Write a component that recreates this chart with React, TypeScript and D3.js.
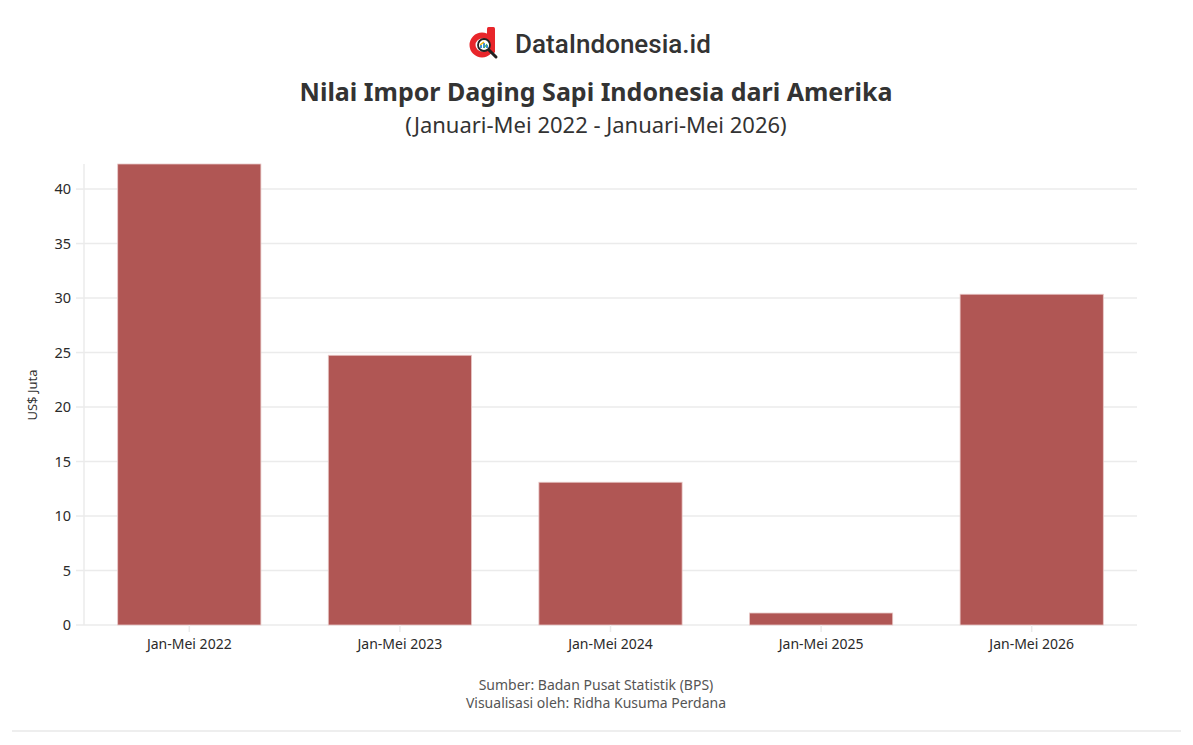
import * as d3 from "d3";
import React from "react";

const categories = ["Jan-Mei 2022", "Jan-Mei 2023", "Jan-Mei 2024", "Jan-Mei 2025", "Jan-Mei 2026"];
const values = [42.3, 24.75, 13.1, 1.1, 30.35];
const yTicks = [0, 5, 10, 15, 20, 25, 30, 35, 40];

const title = "Nilai Impor Daging Sapi Indonesia dari Amerika";
const subtitle = "(Januari-Mei 2022 - Januari-Mei 2026)";
const sourceLines = ["Sumber: Badan Pusat Statistik (BPS)", "Visualisasi oleh: Ridha Kusuma Perdana"];

const W = 1193;
const H = 745;
const margin = { top: 164, right: 56, bottom: 120, left: 84 };
const font = "'Source Sans Pro', 'Noto Sans', Roboto, sans-serif";

function Logo({ x, y }: { x: number; y: number }) {
  // red "d" with a magnifier over its bowl
  return (
    <g transform={`translate(${x}, ${y})`}>
      <rect x={25} y={5} width={8} height={26} fill="#e8262b" rx={1.5} />
      <circle cx={20} cy={23} r={9.5} fill="none" stroke="#e8262b" strokeWidth={6} />
      <circle cx={22} cy={23} r={6} fill="#fff" stroke="#222" strokeWidth={1.8} />
      <path d="M19,26 L19,23 M22,26 L22,21 M25,26 L25,23" stroke="#3a8fd8" strokeWidth={2} />
      <path d="M18,23 L22,20" stroke="#f4b400" strokeWidth={1.5} />
      <path d="M22,26 L25,22" stroke="#4caf50" strokeWidth={1.2} />
      <line x1={27} y1={28} x2={34} y2={35} stroke="#222" strokeWidth={3} strokeLinecap="round" />
    </g>
  );
}

export default function App() {
  const innerW = W - margin.left - margin.right;
  const x = d3
    .scaleBand()
    .domain(categories)
    .range([margin.left, margin.left + innerW])
    .paddingInner(0.32)
    .paddingOuter(0.16);
  const y = d3.scaleLinear().domain([0, 42.3]).range([625, margin.top]);

  return (
    <svg
      width={W}
      height={H}
      style={{ position: "absolute", left: 0, top: 0, background: "#fff", fontFamily: font }}
    >
      <Logo x={462} y={22} />
      <text x={515} y={53} fontSize={26} fill="#333" fontFamily="Roboto, sans-serif" fontWeight={500}>
        DataIndonesia.id
      </text>
      <text x={596} y={101} textAnchor="middle" fontSize={25} fontWeight={700} fill="#333">
        {title}
      </text>
      <text x={596} y={133} textAnchor="middle" fontSize={22} fill="#333">
        {subtitle}
      </text>

      {/* grid */}
      {yTicks.map((t) => (
        <g key={t}>
          <line x1={margin.left} x2={margin.left + innerW} y1={y(t)} y2={y(t)} stroke="#ebebeb" strokeWidth={1.5} />
          <line x1={margin.left - 8} x2={margin.left} y1={y(t)} y2={y(t)} stroke="#ebebeb" strokeWidth={1.5} />
          <text x={margin.left - 13} y={y(t)} dy="0.35em" textAnchor="end" fontSize={14.5} fill="#2a2a2a">
            {t}
          </text>
        </g>
      ))}
      <line x1={margin.left} x2={margin.left} y1={margin.top} y2={y(0)} stroke="#ebebeb" strokeWidth={1.5} />

      {categories.map((c, i) => {
        const cx = (x(c) ?? 0) + x.bandwidth() / 2;
        return (
          <g key={c}>
            <rect
              x={x(c)}
              y={y(values[i])}
              width={x.bandwidth()}
              height={y(0) - y(values[i])}
              fill="#b05654"
              stroke="#e9c9c8"
              strokeWidth={0.8}
            />
            <line x1={cx} x2={cx} y1={y(0)} y2={y(0) + 7} stroke="#ebebeb" strokeWidth={1.5} />
            <text x={cx} y={649} textAnchor="middle" fontSize={14} fill="#2a2a2a">
              {c}
            </text>
          </g>
        );
      })}

      <text transform="translate(37, 395) rotate(-90)" textAnchor="middle" fontSize={13} fill="#333">
        US$ Juta
      </text>

      {sourceLines.map((s, i) => (
        <text key={s} x={596} y={690 + i * 18} textAnchor="middle" fontSize={14} fill="#555">
          {s}
        </text>
      ))}
      <line x1={12} x2={1181} y1={731} y2={731} stroke="#ddd" strokeWidth={1} />
    </svg>
  );
}
